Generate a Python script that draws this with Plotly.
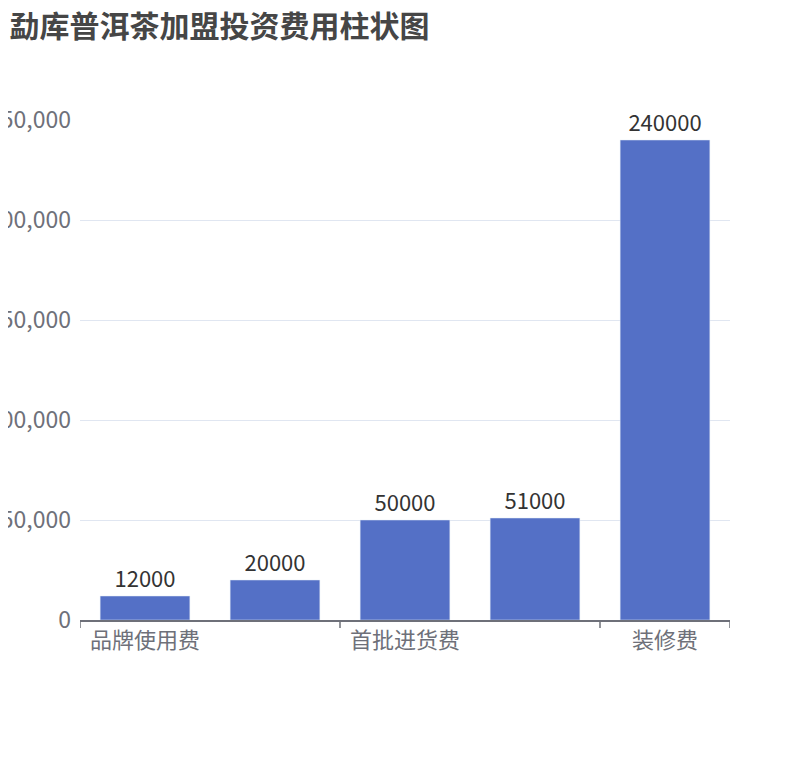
import plotly.graph_objects as go

categories = ["品牌使用费", "加盟费", "首批进货费", "保证金", "装修费"]
values = [12000, 20000, 50000, 51000, 240000]
shown_labels = {0: "品牌使用费", 2: "首批进货费", 4: "装修费"}
y_ticks = [0, 50000, 100000, 150000, 200000, 250000]

fig = go.Figure(go.Bar(
    x=list(range(len(categories))), y=values,
    marker_color="#5470c6", width=0.69,
    text=[str(v) for v in values], textposition="outside",
    textfont=dict(size=22, color="#333"), cliponaxis=False,
))
fnt = "Noto Sans CJK SC"
fig.update_layout(
    width=810, height=760, plot_bgcolor="white", paper_bgcolor="white",
    margin=dict(l=72, r=88, t=112, b=148),
    font=dict(family=fnt),
    title=dict(text="<b>勐库普洱茶加盟投资费用柱状图</b>", x=0.002, y=0.99,
               xanchor="left", yanchor="top", font=dict(size=30, color="#464646")),
    xaxis=dict(range=[-0.5, 4.5], tickvals=list(shown_labels.keys()),
               ticktext=list(shown_labels.values()), ticks="", showgrid=False,
               showline=True, linecolor="#6e7079", linewidth=1.5,
               tickfont=dict(size=22, color="#6e7079")),
    yaxis=dict(range=[0, 250000], tickvals=y_ticks, tickformat=",",
               gridcolor="#e0e6f1", zeroline=False, automargin=False,
               ticklabelstandoff=8,
               tickfont=dict(size=23, color="#6e7079")),
    showlegend=False,
)
for xv in [-0.5, 1.5, 3.5, 4.5]:
    fig.add_shape(type="line", xref="x", yref="paper", x0=xv, x1=xv, y0=0, y1=-0.016,
                  line=dict(color="#6e7079", width=1.5))
fig.write_html("out.html")
